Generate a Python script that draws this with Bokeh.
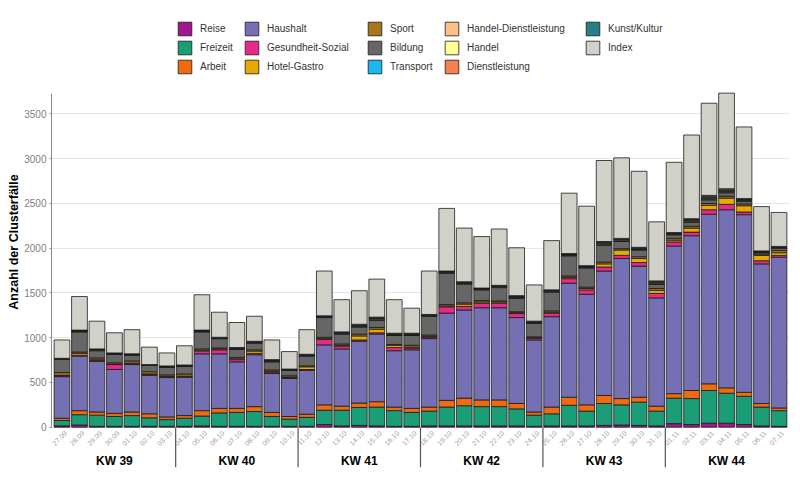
import numpy as np
from bokeh.plotting import figure
from bokeh.models import (Range1d, Legend, LegendItem, ColumnDataSource,
                          SingleIntervalTicker)
from bokeh.core.properties import value
from bokeh.embed import file_html
from bokeh.resources import INLINE

# ---------------- data ----------------
dates = ["27.09", "28.09", "29.09", "30.09", "01.10", "02.10", "03.10",
         "04.10", "05.10", "06.10", "07.10", "08.10", "09.10", "10.10",
         "11.10", "12.10", "13.10", "14.10", "15.10", "16.10", "17.10",
         "18.10", "19.10", "20.10", "21.10", "22.10", "23.10", "24.10",
         "25.10", "26.10", "27.10", "28.10", "29.10", "30.10", "31.10",
         "01.11", "02.11", "03.11", "04.11", "05.11", "06.11", "07.11"]
weeks = ["KW 39", "KW 40", "KW 41", "KW 42", "KW 43", "KW 44"]

categories = ["Reise", "Freizeit", "Arbeit", "Haushalt", "Gesundheit-Sozial",
              "Hotel-Gastro", "Sport", "Bildung", "Transport",
              "Handel-Dienstleistung", "Handel", "Dienstleistung",
              "Kunst/Kultur", "Index"]
colors = ["#a1178f", "#1b9e77", "#f06a10", "#7570b3", "#e7298a",
          "#e6ab02", "#a6761d", "#666666", "#1cb8f0",
          "#fdc086", "#ffff99", "#f7814e", "#267f86", "#d1d1c9"]

reise = [15, 25, 10, 10, 10, 10, 10, 10, 15, 10, 10, 10, 10, 10,
         10, 30, 15, 20, 15, 10, 10, 15, 15, 15, 15, 15, 15, 10,
         15, 15, 15, 20, 25, 20, 15, 40, 30, 45, 45, 30, 15, 10]
freizeit = [60, 115, 125, 110, 120, 95, 75, 90, 110, 150, 155, 165, 110, 80,
            100, 160, 175, 200, 210, 175, 155, 165, 210, 225, 215, 215, 190, 125,
            135, 230, 165, 245, 225, 260, 165, 285, 290, 365, 335, 315, 210, 175]
arbeit = [25, 45, 35, 35, 40, 45, 30, 30, 60, 50, 45, 55, 45, 30,
          35, 60, 45, 50, 60, 40, 45, 45, 75, 85, 75, 75, 60, 35,
          75, 90, 70, 90, 70, 55, 55, 50, 90, 75, 60, 45, 40, 30]
haushalt = [465, 610, 565, 490, 530, 430, 440, 430, 635, 610, 520, 580, 435, 425,
            490, 670, 640, 690, 755, 630, 655, 765, 975, 985, 1030, 1030, 960, 805,
            1010, 1275, 1235, 1390, 1565, 1465, 1210, 1650, 1730, 1895, 1990, 1985, 1560, 1685]
gesundheit = [10, 10, 10, 55, 10, 10, 10, 5, 30, 45, 25, 15, 15, 10,
              10, 60, 30, 15, 15, 35, 20, 15, 70, 40, 50, 50, 45, 20,
              40, 50, 50, 45, 35, 40, 50, 45, 40, 50, 60, 30, 35, 20]
hotel = [5, 20, 15, 5, 5, 5, 5, 5, 10, 10, 10, 25, 10, 5,
         30, 10, 10, 45, 40, 25, 10, 10, 10, 25, 15, 15, 10, 5,
         10, 15, 15, 35, 60, 45, 35, 20, 45, 50, 70, 70, 60, 30]
sport = [30, 15, 15, 15, 25, 25, 15, 25, 15, 10, 15, 15, 15, 15,
         10, 15, 15, 20, 20, 10, 20, 15, 15, 15, 15, 10, 10, 10,
         15, 15, 15, 20, 15, 20, 20, 20, 20, 20, 20, 20, 15, 25]
bildung = [150, 225, 80, 95, 65, 70, 85, 90, 190, 105, 90, 75, 90, 60,
           110, 220, 110, 80, 80, 100, 110, 210, 350, 210, 120, 150, 150, 150,
           210, 225, 215, 190, 80, 75, 45, 40, 45, 40, 40, 30, 15, 25]
transport = [0, 5, 5, 0, 0, 0, 0, 0, 5, 0, 5, 5, 5, 0,
             5, 5, 5, 5, 5, 5, 5, 5, 5, 5, 5, 5, 5, 5,
             5, 5, 5, 5, 5, 5, 5, 5, 5, 10, 5, 5, 5, 5]
handel_dl = [0, 5, 0, 5, 5, 0, 5, 0, 5, 5, 5, 5, 5, 5,
             5, 5, 5, 5, 10, 5, 5, 5, 5, 5, 5, 5, 5, 5,
             5, 5, 5, 10, 10, 5, 10, 5, 10, 10, 10, 5, 5, 5]
handel = [0, 0, 5, 0, 0, 0, 0, 0, 0, 0, 0, 0, 5, 0,
          0, 0, 5, 5, 5, 5, 5, 0, 5, 5, 0, 5, 5, 5,
          5, 5, 5, 5, 5, 5, 5, 5, 5, 5, 5, 5, 0, 0]
dienstleistung = [5, 5, 5, 5, 5, 5, 5, 5, 5, 5, 5, 5, 5, 5,
                  5, 5, 5, 5, 5, 5, 5, 5, 5, 5, 5, 5, 5, 5,
                  5, 5, 5, 10, 5, 5, 10, 5, 10, 10, 10, 5, 5, 5]
kunst = [5, 5, 5, 5, 5, 5, 5, 5, 5, 5, 5, 5, 5, 5,
         5, 5, 5, 10, 10, 5, 5, 5, 5, 5, 5, 5, 10, 5,
         5, 5, 5, 10, 10, 10, 10, 5, 10, 15, 15, 10, 5, 5]
index = [205, 375, 310, 225, 270, 195, 145, 215, 395, 280, 280, 280, 220, 195,
         275, 500, 360, 375, 425, 375, 280, 485, 700, 600, 575, 630, 535, 405,
         550, 675, 665, 905, 900, 850, 660, 785, 935, 1030, 1068, 800, 495, 380]

series = [reise, freizeit, arbeit, haushalt, gesundheit, hotel, sport, bildung,
          transport, handel_dl, handel, dienstleistung, kunst, index]

# ---------------- layout constants ----------------
W, H = 792, 483
Y_START, Y_END = -629, 4768
UNITS_PER_PX = (Y_END - Y_START) / H
FONT = "Liberation Sans"

n = len(dates)
xs = list(range(n))
totals = [sum(v) for v in zip(*series)]

data = {"x": xs}
for c, s in zip(categories, series):
    data[c] = s
src = ColumnDataSource(data)

p = figure(width=W, height=H, output_backend="svg", toolbar_location=None,
           x_axis_location=None, title=None,
           x_range=Range1d(-0.6, n - 1 + 0.6), y_range=Range1d(Y_START, Y_END),
           min_border_left=51, min_border_right=3, min_border_top=0,
           min_border_bottom=0)
p.outline_line_color = None
p.background_fill_color = "white"
p.border_fill_color = "white"

renderers = p.vbar_stack(categories, x="x", width=0.9, source=src,
                         fill_color=colors, line_color="#1a1a1a", line_width=0.8)
rmap = dict(zip(categories, renderers))

# y axis
ax = p.yaxis[0]
ax.ticker = SingleIntervalTicker(interval=500)
ax.bounds = (0, max(totals))
ax.axis_label = "Anzahl der Clusterfälle"
ax.axis_label_text_font = FONT
ax.axis_label_text_font_style = "bold"
ax.axis_label_text_font_size = "12.5px"
ax.axis_label_text_color = "black"
ax.axis_label_standoff = 0
ax.major_label_text_font = FONT
ax.major_label_text_font_size = "10px"
ax.major_label_text_color = "#7f7f7f"
ax.major_label_standoff = 3
ax.axis_line_color = "#8c8c8c"
ax.major_tick_line_color = "#8c8c8c"
ax.major_tick_out = 2
ax.major_tick_in = 0
ax.minor_tick_out = 0
ax.minor_tick_in = 0

for g in p.ygrid:
    g.grid_line_color = "#e6e6e6"
    g.grid_line_width = 1
for g in p.xgrid:
    g.visible = False

# date labels below the bars
p.text(x=xs, y=[0] * n, text=dates, angle=np.pi / 4, text_align="right",
       text_baseline="top", x_offset=2, y_offset=3, text_font_size="7px",
       text_color="#a0a0a0", text_font=value(FONT))

# week labels and separators
days = 7
week_centers = [k * days + (days - 1) / 2 for k in range(len(weeks))]
p.text(x=week_centers, y=[0] * len(weeks), text=weeks, text_align="center",
       text_baseline="middle", y_offset=34, text_font_size="12px",
       text_font_style="bold", text_color="black", text_font=value(FONT))
sep_x = [k * days - 0.5 for k in range(1, len(weeks))]
p.segment(x0=sep_x, x1=sep_x, y0=[0] * len(sep_x),
          y1=[-40 * UNITS_PER_PX] * len(sep_x), line_color="#555555",
          line_width=1.2)

# legend: 5 columns of up to 3 entries
groups = [categories[0:3], categories[3:6], categories[6:9],
          categories[9:12], categories[12:14]]
col_left = [125, 192, 315, 392, 533]
for grp, left in zip(groups, col_left):
    items = [LegendItem(label=c, renderers=[rmap[c]]) for c in grp]
    bottom = 408 + (3 - len(grp)) * 19
    lg = Legend(items=items, location=(left, bottom), orientation="vertical",
                glyph_width=17, glyph_height=17, label_height=17, spacing=2,
                padding=0, margin=0, label_standoff=7,
                label_text_font=FONT, label_text_font_size="10px",
                label_text_color="#333333", background_fill_alpha=0,
                border_line_alpha=0)
    p.add_layout(lg)

open("out.html", "w").write(file_html(p, INLINE))
